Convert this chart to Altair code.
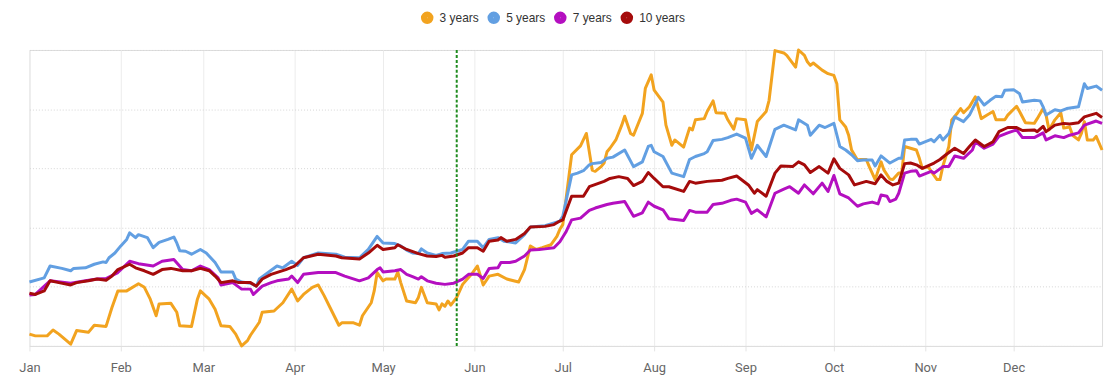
import altair as alt
import pandas as pd

series_names = ["3 years", "5 years", "7 years", "10 years"]
series_colors = ["#F2A31F", "#629FE2", "#B40FC0", "#A50B0B"]

# day of year (0 = 1 Jan) and value
days_3y = [0, 2, 6, 8, 10, 14, 16, 20, 22, 26,
           28, 30, 33, 37, 39, 41, 43, 44, 48, 50,
           51, 55, 57, 58, 61, 63, 65, 68, 70, 72,
           74, 75, 78, 79, 83, 86, 89, 91, 93, 96,
           98, 100, 102, 105, 106, 110, 112, 113, 116, 117,
           118, 120, 121, 124, 125, 126, 128, 131, 132, 133,
           135, 138, 139, 140, 141, 142, 143, 145, 147, 150,
           152, 154, 156, 159, 162, 166, 168, 170, 172, 174,
           177, 179, 180, 181, 184, 187, 189, 191, 192, 194,
           195, 196, 197, 199, 201, 202, 204, 205, 208, 209,
           211, 212, 215, 216, 218, 219, 222, 224, 225, 226,
           229, 230, 232, 233, 236, 237, 239, 240, 243, 245,
           247, 250, 251, 253, 256, 257, 260, 261, 263, 264,
           265, 266, 269, 271, 273, 274, 275, 277, 278, 279,
           281, 282, 284, 285, 287, 289, 290, 292, 293, 295,
           296, 297, 299, 301, 302, 303, 305, 306, 308, 309,
           310, 312, 313, 315, 316, 317, 319, 321, 323, 325,
           327, 328, 331, 332, 335, 336, 338, 341, 342, 344,
           345, 346, 348, 350, 351, 353, 354, 356, 357, 358,
           359, 361, 362, 364]
vals_3y = [0.20, 0.17, 0.17, 0.27, 0.20, 0.03, 0.26, 0.23, 0.35, 0.33,
           0.65, 0.93, 0.93, 1.05, 0.99, 0.79, 0.51, 0.71, 0.72, 0.57,
           0.34, 0.33, 0.79, 0.93, 0.79, 0.62, 0.34, 0.33, 0.20, 0.00,
           0.09, 0.18, 0.40, 0.57, 0.59, 0.73, 0.96, 0.76, 0.87, 0.99,
           1.03, 0.85, 0.65, 0.35, 0.39, 0.39, 0.35, 0.51, 0.73, 0.93,
           1.24, 1.10, 1.13, 1.13, 1.25, 1.07, 0.76, 0.73, 0.82, 0.99,
           0.73, 0.71, 0.61, 0.71, 0.67, 0.76, 0.69, 0.82, 1.04, 1.21,
           1.35, 1.03, 1.18, 1.21, 1.13, 1.08, 1.29, 1.69, 1.63, 1.66,
           1.71, 1.85, 1.97, 2.05, 3.23, 3.38, 3.59, 2.97, 2.95, 3.03,
           3.09, 3.28, 3.34, 3.48, 3.73, 3.88, 3.59, 3.56, 3.93, 4.35,
           4.58, 4.32, 4.12, 3.73, 3.39, 3.48, 3.36, 3.68, 3.65, 3.82,
           3.84, 3.96, 4.14, 3.94, 3.93, 3.82, 3.66, 3.84, 3.82, 3.31,
           3.79, 3.96, 4.15, 4.99, 4.95, 4.91, 4.71, 5.00, 4.91, 4.80,
           4.74, 4.78, 4.66, 4.60, 4.57, 4.43, 3.82, 3.70, 3.56, 3.31,
           3.14, 3.15, 3.15, 3.03, 2.81, 3.11, 2.97, 2.82, 2.81, 2.92,
           2.92, 3.37, 3.34, 3.31, 3.17, 3.00, 3.03, 2.95, 2.81, 2.81,
           3.04, 3.37, 3.82, 3.94, 4.01, 3.94, 4.04, 4.21, 3.84, 3.90,
           3.96, 3.82, 3.82, 3.90, 4.05, 3.96, 3.77, 3.76, 3.84, 4.01,
           3.90, 3.65, 3.82, 3.94, 3.68, 3.70, 3.56, 3.48, 3.59, 3.79,
           3.48, 3.48, 3.54, 3.31]

days_5y = [0, 5, 7, 11, 14, 15, 19, 22, 25, 26,
           27, 29, 31, 33, 34, 36, 37, 40, 42, 44,
           47, 49, 50, 51, 53, 55, 58, 60, 63, 65,
           69, 70, 72, 75, 77, 78, 81, 84, 86, 89,
           91, 93, 98, 104, 107, 112, 115, 118, 120, 124,
           126, 128, 130, 132, 133, 135, 138, 140, 143, 145,
           147, 149, 152, 154, 156, 159, 161, 165, 168, 170,
           175, 180, 181, 184, 186, 188, 190, 191, 194, 196,
           198, 202, 205, 208, 210, 211, 212, 215, 218, 222,
           224, 226, 229, 230, 232, 235, 237, 240, 243, 245,
           247, 250, 253, 256, 260, 261, 264, 265, 268, 270,
           273, 275, 277, 279, 281, 283, 286, 287, 289, 292,
           295, 296, 297, 299, 301, 302, 306, 307, 309, 310,
           312, 314, 317, 319, 322, 324, 326, 328, 330, 331,
           334, 336, 337, 341, 343, 344, 345, 347, 348, 350,
           352, 356, 358, 359, 362, 364]
vals_5y = [1.08, 1.15, 1.35, 1.31, 1.27, 1.31, 1.32, 1.38, 1.42, 1.41,
           1.49, 1.57, 1.69, 1.80, 1.91, 1.83, 1.88, 1.83, 1.66, 1.75,
           1.80, 1.84, 1.74, 1.61, 1.60, 1.55, 1.63, 1.57, 1.41, 1.25,
           1.25, 1.13, 1.08, 1.06, 1.01, 1.13, 1.24, 1.35, 1.32, 1.43,
           1.36, 1.49, 1.57, 1.55, 1.50, 1.49, 1.63, 1.85, 1.74, 1.73,
           1.69, 1.62, 1.57, 1.56, 1.64, 1.57, 1.53, 1.56, 1.57, 1.60,
           1.63, 1.77, 1.77, 1.66, 1.80, 1.83, 1.77, 1.74, 1.88, 2.01,
           2.03, 2.11, 2.19, 2.89, 2.92, 2.96, 3.06, 3.08, 3.10, 3.17,
           3.19, 3.31, 3.03, 3.11, 3.37, 3.39, 3.28, 3.20, 2.92, 2.86,
           3.15, 3.20, 3.25, 3.28, 3.47, 3.49, 3.52, 3.58, 3.51, 3.17,
           3.39, 3.20, 3.66, 3.73, 3.65, 3.82, 3.73, 3.56, 3.73, 3.69,
           3.76, 3.37, 3.31, 3.23, 3.13, 3.14, 3.14, 3.04, 3.21, 3.09,
           3.17, 3.17, 3.48, 3.49, 3.49, 3.41, 3.49, 3.45, 3.56, 3.48,
           3.59, 3.87, 3.79, 3.90, 4.20, 4.07, 4.15, 4.22, 4.21, 4.32,
           4.33, 4.26, 4.12, 4.15, 4.14, 4.04, 3.90, 3.96, 3.99, 3.97,
           4.01, 4.04, 4.43, 4.35, 4.39, 4.32]

days_7y = [0, 2, 7, 14, 19, 23, 26, 30, 34, 37,
           42, 45, 49, 52, 55, 58, 61, 64, 65, 69,
           72, 75, 76, 79, 82, 84, 88, 89, 91, 93,
           98, 104, 107, 112, 115, 118, 119, 120, 124, 126,
           128, 130, 132, 133, 135, 138, 141, 144, 147, 149,
           152, 154, 156, 159, 160, 163, 165, 168, 170, 173,
           175, 178, 180, 181, 182, 184, 187, 190, 192, 196,
           198, 202, 205, 208, 210, 212, 215, 217, 222, 224,
           226, 230, 232, 235, 238, 240, 243, 245, 247, 250,
           253, 256, 258, 261, 263, 266, 269, 271, 273, 275,
           278, 281, 283, 286, 288, 289, 291, 292, 294, 295,
           297, 299, 301, 302, 306, 307, 310, 312, 314, 317,
           320, 321, 324, 327, 329, 332, 335, 337, 341, 344,
           345, 348, 351, 353, 356, 358, 362, 364]
vals_7y = [0.86, 0.87, 1.10, 1.06, 1.10, 1.13, 1.14, 1.24, 1.43, 1.39,
           1.35, 1.43, 1.46, 1.29, 1.27, 1.35, 1.29, 1.15, 1.03, 1.07,
           0.96, 0.96, 0.87, 1.01, 1.07, 1.10, 1.13, 1.18, 1.07, 1.21,
           1.24, 1.24, 1.18, 1.10, 1.15, 1.29, 1.32, 1.25, 1.27, 1.29,
           1.21, 1.17, 1.13, 1.17, 1.10, 1.06, 1.04, 1.06, 1.13, 1.21,
           1.21, 1.14, 1.31, 1.32, 1.41, 1.41, 1.43, 1.52, 1.62, 1.63,
           1.64, 1.66, 1.76, 1.84, 1.92, 2.13, 2.16, 2.29, 2.33, 2.39,
           2.41, 2.44, 2.19, 2.25, 2.43, 2.36, 2.30, 2.15, 2.12, 2.29,
           2.26, 2.26, 2.39, 2.41, 2.46, 2.48, 2.43, 2.24, 2.30, 2.18,
           2.58, 2.65, 2.69, 2.58, 2.72, 2.57, 2.75, 2.61, 2.88, 2.57,
           2.50, 2.36, 2.40, 2.43, 2.40, 2.55, 2.53, 2.44, 2.48, 2.58,
           2.92, 2.95, 2.96, 2.87, 2.95, 2.92, 3.03, 3.03, 3.21, 3.17,
           3.31, 3.45, 3.34, 3.41, 3.54, 3.60, 3.65, 3.52, 3.52, 3.60,
           3.48, 3.55, 3.52, 3.56, 3.60, 3.73, 3.80, 3.76]

days_10y = [0, 2, 5, 7, 10, 14, 16, 20, 23, 26,
            28, 30, 34, 36, 39, 42, 45, 48, 52, 55,
            58, 61, 63, 65, 69, 71, 75, 77, 79, 82,
            87, 90, 93, 98, 104, 106, 112, 115, 118, 120,
            124, 125, 128, 132, 135, 138, 140, 141, 144, 147,
            149, 152, 154, 156, 159, 160, 162, 165, 168, 170,
            175, 178, 180, 181, 184, 188, 190, 195, 197, 200,
            203, 205, 208, 210, 212, 215, 217, 222, 224, 226,
            230, 235, 237, 240, 244, 246, 247, 250, 253, 255,
            259, 261, 263, 265, 268, 271, 273, 275, 278, 280,
            282, 284, 287, 289, 291, 293, 295, 297, 299, 301,
            303, 307, 309, 311, 314, 317, 319, 321, 324, 327,
            329, 332, 335, 337, 341, 342, 344, 345, 348, 351,
            353, 356, 358, 362, 364]
vals_10y = [0.89, 0.87, 0.93, 1.10, 1.07, 1.03, 1.07, 1.10, 1.13, 1.11,
            1.18, 1.29, 1.38, 1.32, 1.27, 1.21, 1.29, 1.31, 1.27, 1.27,
            1.31, 1.27, 1.18, 1.07, 1.10, 1.07, 1.07, 1.01, 1.13, 1.21,
            1.29, 1.35, 1.49, 1.55, 1.52, 1.49, 1.47, 1.57, 1.70, 1.63,
            1.66, 1.71, 1.63, 1.56, 1.52, 1.51, 1.53, 1.50, 1.52, 1.57,
            1.66, 1.66, 1.60, 1.77, 1.79, 1.83, 1.77, 1.80, 1.90, 2.01,
            2.02, 2.05, 2.11, 2.13, 2.53, 2.53, 2.69, 2.78, 2.83, 2.86,
            2.83, 2.71, 2.78, 2.93, 2.83, 2.69, 2.69, 2.61, 2.78, 2.75,
            2.78, 2.80, 2.83, 2.87, 2.72, 2.58, 2.64, 2.53, 2.92, 3.04,
            3.03, 3.11, 3.06, 2.93, 3.03, 2.92, 3.16, 3.00, 2.89, 2.72,
            2.75, 2.78, 2.74, 2.89, 2.78, 2.72, 2.75, 3.08, 3.09, 3.06,
            3.00, 3.09, 3.15, 3.23, 3.34, 3.25, 3.37, 3.48, 3.37, 3.45,
            3.62, 3.69, 3.69, 3.64, 3.65, 3.62, 3.71, 3.62, 3.73, 3.76,
            3.75, 3.77, 3.87, 3.93, 3.86]

marker_days = [145]
year_start = "2019-01-01"

base = pd.Timestamp(year_start)
rows = []
for name, days, vals in zip(series_names,
                            [days_3y, days_5y, days_7y, days_10y],
                            [vals_3y, vals_5y, vals_7y, vals_10y]):
    assert len(days) == len(vals), name
    for d, v in zip(days, vals):
        rows.append({"date": (base + pd.Timedelta(days=d)).strftime("%Y-%m-%d"),
                     "series": name, "value": v})
df = pd.DataFrame(rows)
marker_df = pd.DataFrame({"date": [(base + pd.Timedelta(days=d)).strftime("%Y-%m-%d")
                                   for d in marker_days]})

x_scale = alt.Scale(type="utc", domain=[
    alt.DateTime(year=2019, month=1, date=1, utc=True),
    alt.DateTime(year=2019, month=12, date=31, utc=True)])

x_axis = alt.Axis(format="%b", tickCount={"interval": "month", "step": 1},
                  labelFlush=False, labelOverlap=False, title=None,
                  grid=True, gridColor="#ececec", gridWidth=1,
                  domainColor="#dedede", tickColor="#e4e4e4", tickSize=5,
                  labelColor="#666666", labelFont="Roboto", labelFontSize=13,
                  labelPadding=11)

y_axis = alt.Axis(values=[0, 1, 2, 3, 4, 5], labels=False, ticks=False,
                  domain=False, title=None, grid=True, gridColor="#d6d6d6",
                  gridDash=[1, 2], gridWidth=1)

lines = alt.Chart(df).mark_line(strokeWidth=3, strokeJoin="round").encode(
    x=alt.X("date:T", scale=x_scale, axis=x_axis),
    y=alt.Y("value:Q", scale=alt.Scale(domain=[0, 5], nice=False, zero=False),
            axis=y_axis),
    color=alt.Color("series:N",
                    scale=alt.Scale(domain=series_names, range=series_colors),
                    legend=alt.Legend(orient="none", legendX=394, legendY=-39,
                                      direction="horizontal", title=None,
                                      symbolType="circle", symbolSize=36,
                                      symbolStrokeWidth=6.6, symbolOpacity=1,
                                      labelFont="Liberation Sans",
                                      labelFontSize=12, labelColor="#333333",
                                      labelOffset=6, columnPadding=-2,
                                      padding=0)),
)

marker = alt.Chart(marker_df).mark_rule(color="#1E8A1E", strokeDash=[3, 2],
                                        strokeWidth=2).encode(x="date:T")

chart = alt.layer(lines, marker).properties(
    width=1080, height=298,
    autosize=alt.AutoSizeParams(type="none"),
    padding={"left": 21.6, "top": 41, "right": 8, "bottom": 30},
).configure_view(stroke=None).configure(background="white")

chart.save("out.html", embed_options={"renderer": "svg", "actions": False})
